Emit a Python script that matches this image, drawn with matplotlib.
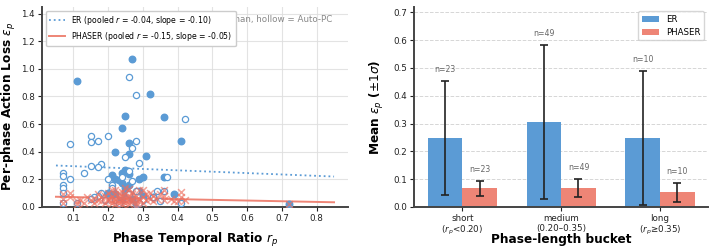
import matplotlib
matplotlib.use("Agg")
import matplotlib.pyplot as plt
import numpy as np

# ---- scatter data ----
er_human_x = [0.11, 0.27, 0.32, 0.25, 0.36, 0.24, 0.26, 0.22, 0.26, 0.31, 0.41, 0.21,
              0.22, 0.23, 0.24, 0.24, 0.25, 0.29, 0.30, 0.36, 0.39, 0.26, 0.25, 0.29,
              0.72, 0.20, 0.28, 0.25, 0.22, 0.27, 0.24, 0.30, 0.26, 0.33, 0.21]
er_human_y = [0.91, 1.07, 0.82, 0.66, 0.65, 0.57, 0.465, 0.40, 0.385, 0.37, 0.48, 0.23,
              0.205, 0.193, 0.176, 0.248, 0.267, 0.205, 0.22, 0.215, 0.094, 0.157, 0.135, 0.113,
              0.02, 0.10, 0.02, 0.10, 0.09, 0.06, 0.05, 0.08, 0.24, 0.07, 0.12]

er_auto_x = [0.26, 0.28, 0.42, 0.09, 0.15, 0.15, 0.17, 0.20, 0.28, 0.27, 0.25, 0.29,
             0.18, 0.15, 0.17, 0.13, 0.07, 0.07, 0.07, 0.07, 0.07, 0.09, 0.26, 0.24,
             0.27, 0.20, 0.21, 0.21, 0.37, 0.34, 0.36, 0.28, 0.41, 0.18, 0.17, 0.16,
             0.11, 0.33, 0.07, 0.22, 0.30, 0.26, 0.19, 0.23, 0.29, 0.15, 0.35]
er_auto_y = [0.94, 0.81, 0.64, 0.455, 0.516, 0.47, 0.48, 0.516, 0.48, 0.43, 0.364, 0.315,
             0.31, 0.296, 0.29, 0.248, 0.248, 0.224, 0.157, 0.137, 0.026, 0.205, 0.263, 0.22,
             0.188, 0.20, 0.16, 0.135, 0.215, 0.118, 0.118, 0.118, 0.026, 0.10, 0.08, 0.07,
             0.026, 0.07, 0.10, 0.05, 0.05, 0.09, 0.05, 0.03, 0.03, 0.06, 0.04]

phaser_x = [0.07, 0.07, 0.07, 0.09, 0.09, 0.11, 0.11, 0.13, 0.15, 0.16, 0.16, 0.17,
            0.17, 0.18, 0.18, 0.19, 0.19, 0.20, 0.20, 0.20, 0.21, 0.21, 0.21, 0.21,
            0.22, 0.22, 0.22, 0.22, 0.23, 0.23, 0.23, 0.23, 0.24, 0.24, 0.24, 0.24,
            0.25, 0.25, 0.25, 0.25, 0.25, 0.26, 0.26, 0.26, 0.26, 0.26, 0.27, 0.27,
            0.27, 0.27, 0.28, 0.28, 0.28, 0.28, 0.29, 0.29, 0.29, 0.30, 0.30, 0.30,
            0.31, 0.31, 0.32, 0.32, 0.33, 0.33, 0.34, 0.35, 0.36, 0.36, 0.36, 0.38,
            0.39, 0.40, 0.41, 0.41, 0.42, 0.72, 0.24, 0.22, 0.14, 0.12]
phaser_y = [0.09, 0.06, 0.03, 0.10, 0.07, 0.04, 0.02, 0.03, 0.05, 0.06, 0.03, 0.09,
            0.05, 0.07, 0.04, 0.08, 0.03, 0.10, 0.06, 0.04, 0.12, 0.08, 0.05, 0.03,
            0.06, 0.09, 0.04, 0.02, 0.07, 0.05, 0.03, 0.10, 0.06, 0.04, 0.08, 0.02,
            0.14, 0.07, 0.05, 0.03, 0.10, 0.13, 0.06, 0.04, 0.08, 0.02, 0.06, 0.09,
            0.04, 0.11, 0.05, 0.08, 0.01, 0.03, 0.12, 0.06, 0.04, 0.12, 0.07, 0.03,
            0.05, 0.09, 0.10, 0.06, 0.08, 0.04, 0.06, 0.09, 0.12, 0.05, 0.08, 0.06,
            0.04, 0.04, 0.11, 0.07, 0.05, 0.02, 0.11, 0.12, 0.07, 0.05]

# pooled linear fits (slope, intercept) and fit range
er_fit = (-0.10, 0.305)
phaser_fit = (-0.05, 0.076)
fit_range = (0.05, 0.85)

# ---- bucket summary ----
buckets = ["short\n($r_p$<0.20)", "medium\n(0.20–0.35)", "long\n($r_p$≥0.35)"]
er_mean = [0.248, 0.305, 0.248]
er_std = [0.204, 0.278, 0.240]
phaser_mean = [0.067, 0.068, 0.053]
phaser_std = [0.027, 0.031, 0.034]
n_counts = [23, 49, 10]

ER_C = "#5b9bd5"
PH_C = "#ee8576"
PH_SC = "#ee6f5e"

TICK_FS = 6.3
LABEL_FS = 8.7

fig = plt.figure(figsize=(7.13, 2.52), dpi=100)
ax1 = fig.add_axes([0.059, 0.179, 0.429, 0.794])
ax2 = fig.add_axes([0.581, 0.179, 0.412, 0.794])

for ax in (ax1, ax2):
    for s in ("top", "right"):
        ax.spines[s].set_visible(False)
    for s in ("left", "bottom"):
        ax.spines[s].set_color("#444444")
        ax.spines[s].set_linewidth(1.4)
    ax.tick_params(labelsize=TICK_FS, colors="#222222", length=3, pad=2)

# ---- left: scatter ----
ax1.grid(True, color="#dddddd", lw=0.8, alpha=0.8)
ax1.set_axisbelow(True)
ax1.scatter(er_human_x, er_human_y, s=22, color=ER_C, edgecolors=ER_C, zorder=3)
ax1.scatter(er_auto_x, er_auto_y, s=20, facecolors="white", edgecolors=ER_C, linewidths=0.9, zorder=3)
ax1.scatter(phaser_x, phaser_y, s=24, marker="x", color=PH_SC, alpha=0.65, linewidths=1.1, zorder=4)

xf = np.linspace(fit_range[0], fit_range[1], 50)
ax1.plot(xf, er_fit[1] + er_fit[0] * xf, ls=":", color=ER_C, lw=1.3,
         label="ER (pooled $r$ = -0.04, slope = -0.10)")
ax1.plot(xf, phaser_fit[1] + phaser_fit[0] * xf, ls="-", color=PH_C, lw=1.4,
         label="PHASER (pooled $r$ = -0.15, slope = -0.05)")

ax1.text(0.95, 0.935, "filled = Human, hollow = Auto-PC", transform=ax1.transAxes,
         ha="right", va="center", fontsize=6.3, color="#888888", zorder=1)
leg1 = ax1.legend(loc="upper left", fontsize=5.6, frameon=True, borderpad=0.45,
                  handlelength=2.0, labelspacing=0.35, bbox_to_anchor=(0.0, 1.0))
leg1.set_zorder(10)
leg1.get_frame().set_alpha(1.0)

ax1.set_xlim(0.01, 0.89)
ax1.set_ylim(0, 1.45)
ax1.set_xticks(np.arange(0.1, 0.81, 0.1))
ax1.set_xticklabels([f"{v:.1f}" for v in np.arange(0.1, 0.81, 0.1)])
ax1.set_yticks(np.arange(0, 1.41, 0.2))
ax1.set_yticklabels([f"{v:.1f}" for v in np.arange(0, 1.41, 0.2)])
ax1.set_xlabel("Phase Temporal Ratio $r_p$", fontsize=LABEL_FS, fontweight="bold", labelpad=6)
ax1.set_ylabel("Per-phase Action Loss $\\epsilon_p$", fontsize=LABEL_FS, fontweight="bold", labelpad=2)

# ---- right: bars ----
ax2.grid(True, axis="y", ls="--", color="#cccccc", lw=0.7, alpha=0.8)
ax2.set_axisbelow(True)
pos = np.arange(len(buckets))
w = 0.35
ax2.bar(pos - w / 2, er_mean, w, yerr=er_std, color=ER_C, label="ER",
        error_kw=dict(ecolor="#222222", capsize=3, elinewidth=1.2, capthick=1.2))
ax2.bar(pos + w / 2, phaser_mean, w, yerr=phaser_std, color=PH_C, label="PHASER",
        error_kw=dict(ecolor="#222222", capsize=3, elinewidth=1.2, capthick=1.2))
for i in range(len(buckets)):
    ax2.text(pos[i] - w / 2, er_mean[i] + er_std[i] + 0.025, f"n={n_counts[i]}",
             ha="center", va="bottom", fontsize=5.6, color="#666666")
    ax2.text(pos[i] + w / 2, phaser_mean[i] + phaser_std[i] + 0.025, f"n={n_counts[i]}",
             ha="center", va="bottom", fontsize=5.6, color="#666666")
ax2.set_xticks(pos)
ax2.set_xticklabels(buckets, fontsize=TICK_FS, linespacing=1.1)
ax2.set_ylim(0, 0.72)
ax2.set_yticks(np.arange(0, 0.71, 0.1))
ax2.set_yticklabels([f"{v:.1f}" for v in np.arange(0, 0.71, 0.1)])
ax2.set_xlabel("Phase-length bucket", fontsize=LABEL_FS, fontweight="bold", labelpad=-3)
ax2.set_ylabel("Mean $\\epsilon_p$ ($\\pm 1\\sigma$)", fontsize=LABEL_FS, fontweight="bold", labelpad=5)
ax2.legend(loc="upper right", fontsize=6.2, frameon=True)

fig.savefig("out.png", dpi=100)
